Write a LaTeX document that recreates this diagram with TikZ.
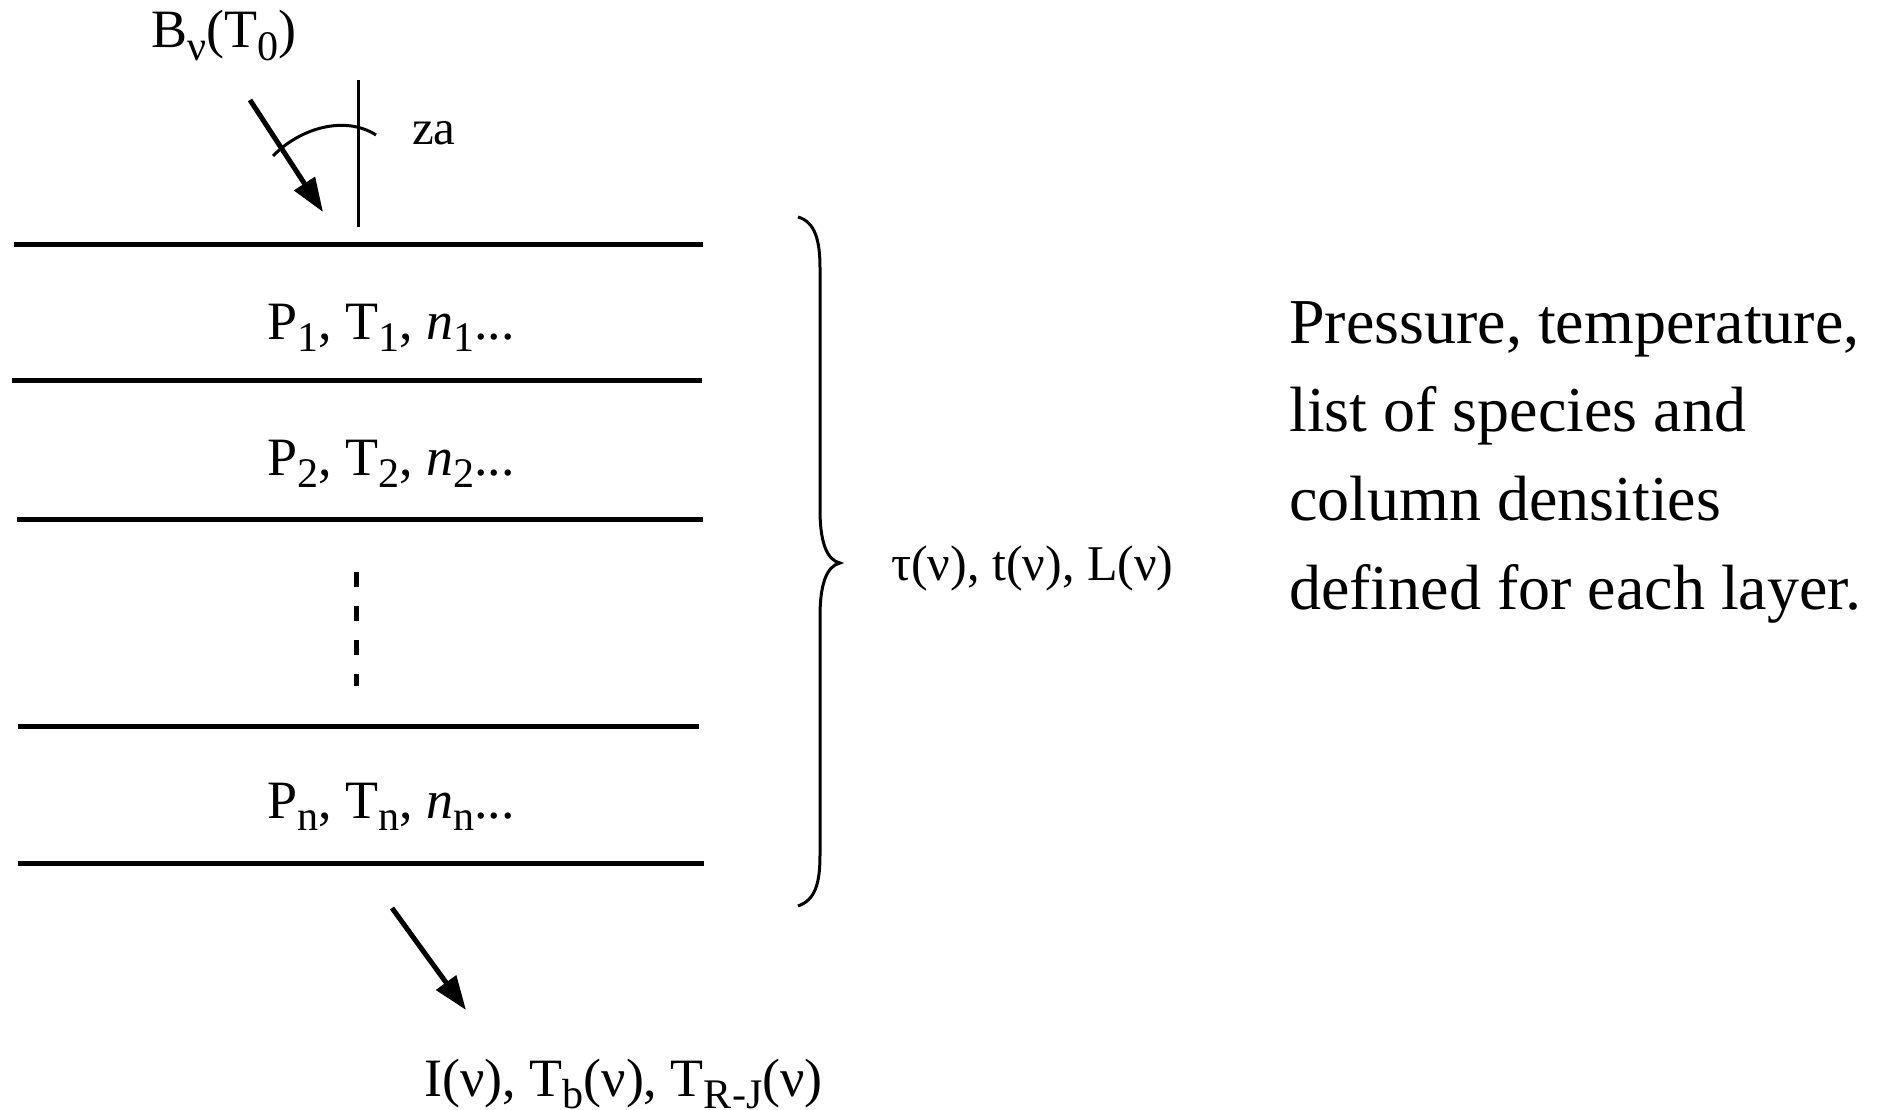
\documentclass[tikz,border=0pt]{standalone}
\usepackage{fontspec}
\setmainfont{Liberation Serif}
\usetikzlibrary{arrows.meta}
\newcommand\subx[1]{\raisebox{-0.24em}{\scalebox{0.78}{#1}}}
\begin{document}
\begin{tikzpicture}[x=1pt,y=-1pt,
  layer/.style={line width=5pt},
  thin/.style={line width=3pt},
  ray/.style={line width=5pt,-{Triangle[length=34pt,width=24pt]}},
  lbl/.style={inner sep=0pt,anchor=base west,font=\fontsize{54}{60}\selectfont},
  sml/.style={inner sep=0pt,anchor=base west,font=\fontsize{49}{56}\selectfont},
  desc/.style={inner sep=0pt,anchor=base west,font=\fontsize{64}{89}\selectfont}]
\useasboundingbox (0,0) rectangle (1887,1110);
% layer boundaries
\coordinate (l1a) at (14,244);  \coordinate (l1b) at (703,244);
\coordinate (l2a) at (12,380);  \coordinate (l2b) at (702,380);
\coordinate (l3a) at (17,519);  \coordinate (l3b) at (703,519);
\coordinate (l4a) at (18,726);  \coordinate (l4b) at (699,726);
\coordinate (l5a) at (18,863);  \coordinate (l5b) at (704,863);
\draw[layer] (l1a) -- (l1b);
\draw[layer] (l2a) -- (l2b);
\draw[layer] (l3a) -- (l3b);
\draw[layer] (l4a) -- (l4b);
\draw[layer] (l5a) -- (l5b);
% dashed continuation
\coordinate (da) at (356,572); \coordinate (db) at (356,686);
\draw[layer,dash pattern=on 15pt off 19pt] (da) -- (db);
% zenith line and angle
\coordinate (za1) at (358,80); \coordinate (za2) at (358,227);
\draw[thin] (za1) -- (za2);
\coordinate (arcA) at (273,156); \coordinate (arcB) at (376,135);
\draw[thin] (arcA) .. controls (300,128) and (345,115) .. (arcB);
% incoming ray
\coordinate (in1) at (250,100); \coordinate (in2) at (323,212);
\draw[ray] (in1) -- (in2);
% outgoing ray
\coordinate (out1) at (392,908); \coordinate (out2) at (466,1010);
\draw[ray] (out1) -- (out2);
% labels
\node[lbl] (bnu) at (151,48) {B\subx{ν}(T\subx{0})};
\node[sml] (za) at (412,145) {za};
\node[lbl] (p1) at (267,339) {P\subx{1}, T\subx{1}, \textit{n}\subx{1}...};
\node[lbl] (p2) at (267,475) {P\subx{2}, T\subx{2}, \textit{n}\subx{2}...};
\node[lbl] (pn) at (267,818) {P\subx{n}, T\subx{n}, \textit{n}\subx{n}...};
\node[lbl] (outl) at (424,1096) {I(ν), T\subx{b}(ν), T\subx{R-J}(ν)};
% brace
\coordinate (bt) at (798,217); \coordinate (btip) at (840,563); \coordinate (bb) at (798,906);
\draw[thin] (bt) .. controls (815,222) and (820,240) .. (820,268) -- (820,510)
  .. controls (820,540) and (826,560) .. (btip)
  .. controls (826,566) and (820,586) .. (820,616) -- (820,855)
  .. controls (820,884) and (815,900) .. (bb);
\node[sml,font=\fontsize{50}{56}\selectfont] (tau) at (891,580) {τ(ν), t(ν), L(ν)};
% description
\node[desc] (d1) at (1289,343) {Pressure, temperature,};
\node[desc] (d2) at (1289,431) {list of species and};
\node[desc] (d3) at (1289,520) {column densities};
\node[desc] (d4) at (1289,609) {defined for each layer.};
\end{tikzpicture}
\end{document}
